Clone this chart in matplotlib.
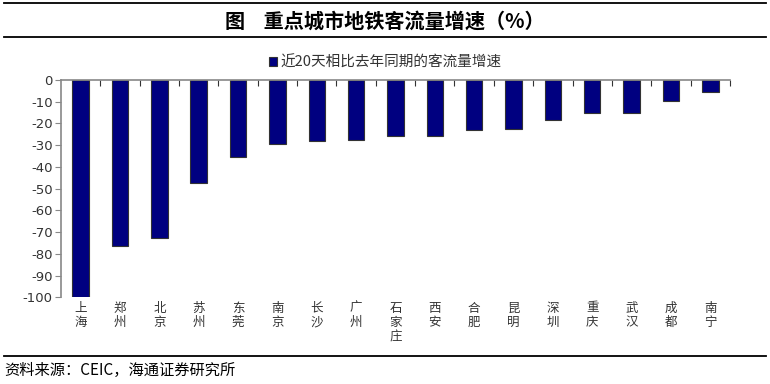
import matplotlib
matplotlib.use("Agg")
import matplotlib.pyplot as plt
from matplotlib.lines import Line2D

plt.rcParams['font.family'] = ['Noto Sans CJK SC', 'DejaVu Sans']

cities = ["上海", "郑州", "北京", "苏州", "东莞", "南京", "长沙", "广州", "石家庄",
          "西安", "合肥", "昆明", "深圳", "重庆", "武汉", "成都", "南宁"]
growth = [-100, -76.2, -72.9, -47.4, -35.4, -29.4, -28.1, -27.5, -25.9,
          -25.6, -23.0, -22.4, -18.3, -15.2, -15.0, -9.8, -5.5]
yticks = list(range(-100, 1, 10))
series_name = "近20天相比去年同期的客流量增速"
title = "图    重点城市地铁客流量增速（%）"
source = "资料来源：CEIC，海通证券研究所"

fig = plt.figure(figsize=(7.7, 3.84), dpi=100)
ax = fig.add_axes([0.0792, 0.2258, 0.8688, 0.5659])

x = list(range(len(cities)))
ax.bar(x, growth, width=0.42, color="#000080", edgecolor="#333333",
       linewidth=0.8, label=series_name)

ax.set_xlim(-0.5, len(cities) - 0.5)
ax.set_ylim(-100, 0)
ax.set_yticks(yticks)
ax.set_yticklabels([str(v) for v in yticks], fontfamily="DejaVu Sans",
                   fontsize=9.5, color="#333333")
ax.tick_params(axis="y", direction="out", length=4, color="#888888", pad=2)
ax.set_xticks([i + 0.5 for i in x])
ax.tick_params(axis="x", top=True, bottom=False, labeltop=False,
               labelbottom=False, direction="in", length=4, color="#333333")

for s in ["bottom", "right"]:
    ax.spines[s].set_visible(False)
for s in ["top", "left"]:
    ax.spines[s].set_color("#888888")
    ax.spines[s].set_linewidth(1.2)

for i, name in enumerate(cities):
    ax.text(i, -102, "\n".join(name), ha="center", va="top",
            fontsize=9, color="#333333", linespacing=1.15)

ax.legend(loc="center", bbox_to_anchor=(0.5, 0.837),
          bbox_transform=fig.transFigure, frameon=False, fontsize=10.5,
          handlelength=0.6, handleheight=0.6, handletextpad=0.2,
          labelcolor="#333333")

fig.text(0.5, 0.945, title, ha="center", va="center", fontsize=14.5,
         fontweight="bold", color="black")
fig.text(0.005, 0.035, source, ha="left", va="center", fontsize=11,
         color="black")

for yy in [0.992, 0.904, 0.072]:
    fig.add_artist(Line2D([0.005, 0.995], [yy, yy], color="black", lw=1.3))

fig.savefig("out.png", dpi=100)
